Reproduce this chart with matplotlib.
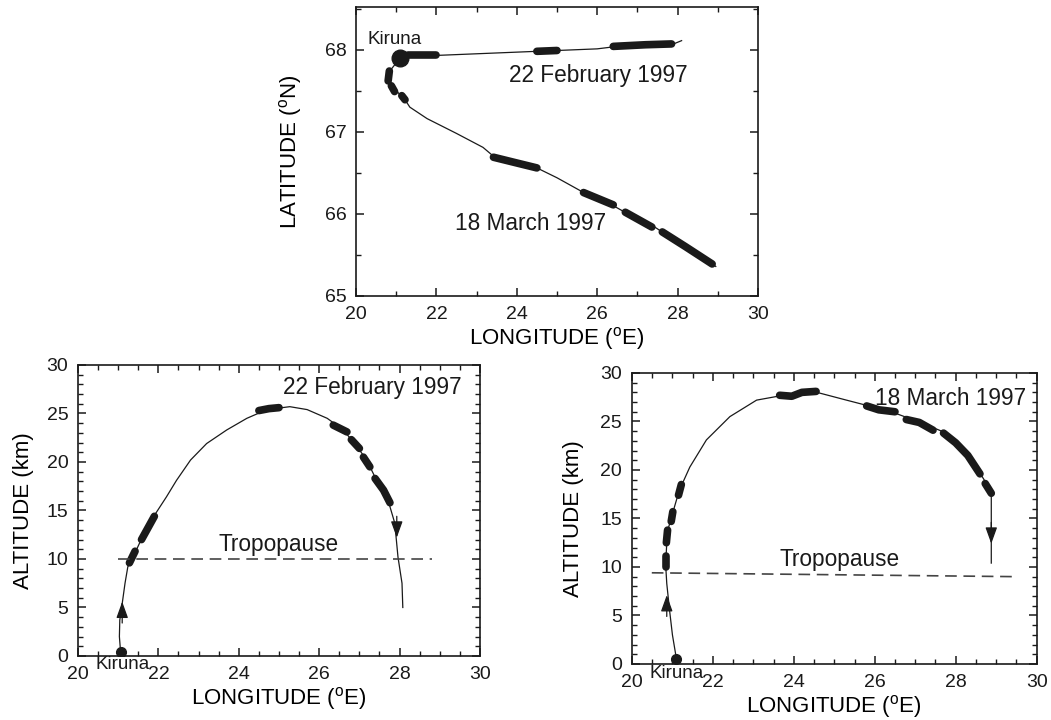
import matplotlib
matplotlib.use("Agg")
import matplotlib.pyplot as plt
from matplotlib.ticker import MultipleLocator

plt.rcParams['font.family'] = ['Liberation Sans', 'DejaVu Sans']
plt.rcParams['mathtext.fontset'] = 'custom'
plt.rcParams['mathtext.rm'] = 'Liberation Sans'
plt.rcParams['text.color'] = '#1a1a1a'

INK = '#1a1a1a'

# ---------------- top panel: latitude vs longitude -------------------------
kiruna_lon, kiruna_lat = 21.1, 67.90

feb_lon = [21.1, 21.4, 22.0, 23.0, 24.0, 24.5, 25.0, 26.0, 26.5, 27.2, 27.9, 28.1]
feb_lat = [67.90, 67.93, 67.93, 67.95, 67.97, 67.98, 67.99, 68.01, 68.04, 68.06, 68.07, 68.11]
feb_thick = [
    ([21.3, 22.0], [67.93, 67.93]),
    ([24.5, 25.0], [67.98, 67.99]),
    ([26.4, 27.2, 27.85], [68.04, 68.06, 68.07]),
]

mar_lon = [21.1, 20.89, 20.8, 20.8, 20.92, 21.18, 21.34, 21.77, 22.5, 23.16, 23.45,
           24.0, 24.5, 25.0, 25.7, 26.4, 26.8, 27.4, 27.8, 28.5, 28.95]
mar_lat = [67.90, 67.77, 67.68, 67.62, 67.53, 67.42, 67.30, 67.16, 66.98, 66.81, 66.69,
           66.62, 66.56, 66.44, 66.25, 66.10, 65.99, 65.85, 65.72, 65.50, 65.36]
mar_thick = [
    ([20.83, 20.8], [67.74, 67.62]),
    ([20.88, 20.96], [67.56, 67.49]),
    ([21.14, 21.22], [67.44, 67.39]),
    ([23.42, 24.0, 24.5], [66.69, 66.62, 66.56]),
    ([25.66, 26.4], [66.26, 66.11]),
    ([26.7, 27.36], [66.02, 65.84]),
    ([27.62, 28.2, 28.86], [65.78, 65.6, 65.39]),
]

# ---------------- bottom left: altitude, 22 February -----------------------
feb_alt_lon = [21.06, 21.03, 21.04, 21.1, 21.17, 21.24, 21.37, 21.55, 21.7, 21.87, 22.2,
               22.45, 22.8, 23.2, 23.7, 24.2, 24.7, 25.27, 25.7, 26.2, 26.6, 26.94,
               27.18, 27.43, 27.71, 27.88, 27.96, 28.06, 28.08]
feb_alt = [0.4, 2.0, 3.7, 5.4, 7.5, 9.2, 10.2, 11.8, 13.0, 14.3, 16.4,
           18.1, 20.2, 21.9, 23.3, 24.5, 25.4, 25.7, 25.4, 24.5, 23.3, 21.6,
           20.2, 18.1, 16.1, 13.7, 10.2, 7.5, 5.0]
feb_alt_thick = [
    ([21.28, 21.42], [9.6, 10.8]),
    ([21.58, 21.9], [12.0, 14.4]),
    ([24.5, 24.75, 25.0], [25.3, 25.5, 25.6]),
    ([26.35, 26.69], [23.8, 23.1]),
    ([26.8, 27.0], [22.3, 21.4]),
    ([27.1, 27.26], [20.5, 19.5]),
    ([27.39, 27.6, 27.76], [18.3, 17.1, 15.8]),
]
feb_arrows = [(21.1, 5.4, 1), (27.93, 12.4, -1)]
feb_tropo_lon = [21.0, 28.8]
feb_tropo_alt = [10.0, 10.0]

# ---------------- bottom right: altitude, 18 March -------------------------
mar_alt_lon = [21.1, 21.0, 20.93, 20.86, 20.84, 20.84, 20.86, 20.9, 20.98, 21.17, 21.43,
               21.84, 22.42, 23.08, 23.74, 24.48, 25.3, 26.04, 26.54, 27.19, 27.77,
               28.18, 28.51, 28.76, 28.88, 28.88]
mar_alt = [0.5, 3.0, 5.5, 8.3, 9.7, 10.8, 12.5, 14.0, 15.2, 17.9, 20.3,
           23.1, 25.5, 27.2, 27.7, 28.1, 27.2, 26.4, 25.8, 24.8, 23.8,
           22.1, 20.3, 18.6, 17.6, 10.4]
mar_alt_thick = [
    ([20.84, 20.84], [10.0, 11.1]),
    ([20.85, 20.88], [12.5, 13.8]),
    ([20.97, 21.01], [14.7, 15.7]),
    ([21.15, 21.22], [17.4, 18.5]),
    ([23.65, 23.95, 24.2, 24.55], [27.7, 27.6, 28.0, 28.1]),
    ([25.8, 26.1, 26.5], [26.6, 26.2, 26.0]),
    ([26.78, 27.1, 27.44], [25.2, 24.9, 24.1]),
    ([27.7, 28.0, 28.3, 28.6], [23.8, 22.8, 21.5, 19.6]),
    ([28.73, 28.88], [18.6, 17.6]),
]
mar_arrows = [(20.86, 6.9, 1), (28.88, 12.6, -1)]
mar_tropo_lon = [20.49, 29.53]
mar_tropo_alt = [9.4, 9.0]

lon_label = r'LONGITUDE ($^{\rm o}$E)'


def style_axes(ax, x_minor, y_major, y_minor):
    ax.set_xlim(20, 30)
    ax.xaxis.set_major_locator(MultipleLocator(2))
    ax.xaxis.set_minor_locator(MultipleLocator(x_minor))
    ax.yaxis.set_major_locator(MultipleLocator(y_major))
    ax.yaxis.set_minor_locator(MultipleLocator(y_minor))
    ax.tick_params(which='both', direction='in', top=True, right=True,
                   colors=INK, labelsize=14, pad=7)
    ax.tick_params(which='major', length=6, width=1.1)
    ax.tick_params(which='minor', length=3.5, width=1.0)
    for sp in ax.spines.values():
        sp.set_linewidth(1.2)
        sp.set_color(INK)
    ax.set_xlabel(lon_label, fontsize=16, labelpad=2)


def draw_track(ax, lon, val, thick, lw_thick=5.5):
    ax.plot(lon, val, color=INK, lw=0.9)
    for xs, ys in thick:
        ax.plot(xs, ys, color=INK, lw=lw_thick, solid_capstyle='round')


def draw_arrows(ax, arrows):
    for x, y, d in arrows:
        ax.annotate('', xy=(x, y + 0.2 * d), xytext=(x, y - 2.0 * d),
                    arrowprops=dict(arrowstyle='-|>,head_length=0.5,head_width=0.18',
                                    color=INK, lw=0.9, mutation_scale=20,
                                    shrinkA=0, shrinkB=0))


fig = plt.figure(figsize=(10.51, 7.2), dpi=100)

# top panel
ax1 = fig.add_axes([0.3387, 0.5889, 0.3825, 0.4014])
draw_track(ax1, feb_lon, feb_lat, feb_thick)
draw_track(ax1, mar_lon, mar_lat, mar_thick)
ax1.plot([kiruna_lon], [kiruna_lat], 'o', color=INK, ms=12)
style_axes(ax1, 1, 1, 0.5)
ax1.set_ylim(65, 68.52)
ax1.set_ylabel(r'LATITUDE ($^{\rm o}$N)', fontsize=16, labelpad=15)
ax1.text(20.95, 68.12, 'Kiruna', fontsize=13.5, ha='center', va='center')
ax1.text(26.03, 67.69, '22 February 1997', fontsize=16.3, ha='center', va='center')
ax1.text(24.34, 65.88, '18 March 1997', fontsize=16.3, ha='center', va='center')

# bottom left
ax2 = fig.add_axes([0.0742, 0.0889, 0.3825, 0.4042])
draw_track(ax2, feb_alt_lon, feb_alt, feb_alt_thick)
ax2.plot([feb_alt_lon[0]], [feb_alt[0]], 'o', color=INK, ms=7)
draw_arrows(ax2, feb_arrows)
ax2.plot(feb_tropo_lon, feb_tropo_alt, color='#444444', lw=1.2, ls=(0, (7, 4)))
style_axes(ax2, 0.5, 5, 1)
ax2.set_ylim(0, 30)
ax2.set_ylabel('ALTITUDE (km)', fontsize=16, labelpad=9)
ax2.text(25.0, 11.5, 'Tropopause', fontsize=16.3, ha='center', va='center')
ax2.text(29.55, 27.7, '22 February 1997', fontsize=16.3, ha='right', va='center')
ax2.text(21.1, -0.9, 'Kiruna', fontsize=13.5, ha='center', va='center', clip_on=False)

# bottom right
ax3 = fig.add_axes([0.6013, 0.0778, 0.385, 0.4042])
draw_track(ax3, mar_alt_lon, mar_alt, mar_alt_thick)
ax3.plot([mar_alt_lon[0]], [mar_alt[0]], 'o', color=INK, ms=7)
draw_arrows(ax3, mar_arrows)
ax3.plot(mar_tropo_lon, mar_tropo_alt, color='#444444', lw=1.2, ls=(0, (7, 4)))
style_axes(ax3, 0.5, 5, 1)
ax3.set_ylim(0, 30)
ax3.set_ylabel('ALTITUDE (km)', fontsize=16, labelpad=12)
ax3.text(25.14, 10.8, 'Tropopause', fontsize=16.3, ha='center', va='center')
ax3.text(29.74, 27.4, '18 March 1997', fontsize=16.3, ha='right', va='center')
ax3.text(21.1, -1.0, 'Kiruna', fontsize=13.5, ha='center', va='center', clip_on=False)

fig.savefig('out.png', dpi=100)
